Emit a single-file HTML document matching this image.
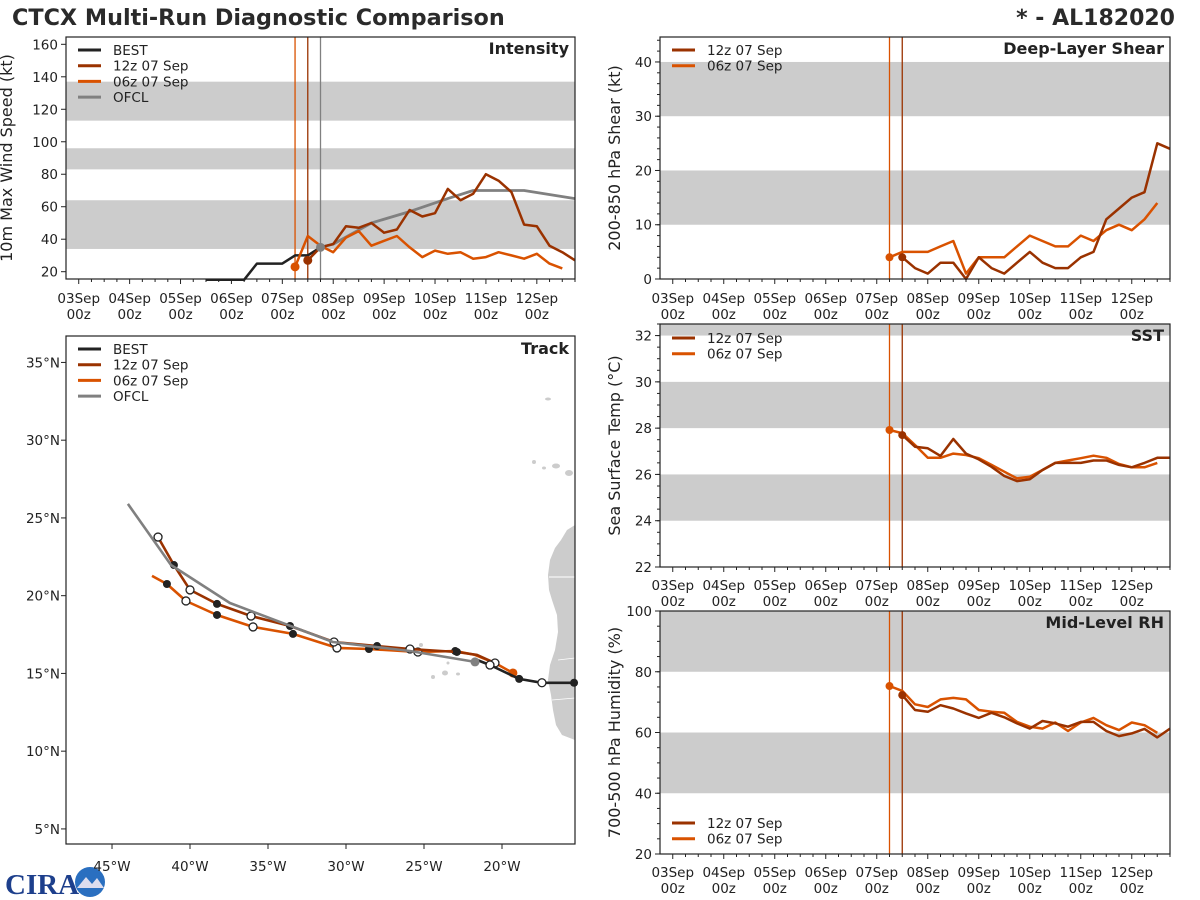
<!DOCTYPE html>
<html><head><meta charset="utf-8"><style>
body{margin:0;background:#fff;}
svg{display:block;font-family:"DejaVu Sans","Liberation Sans",sans-serif;}
</style></head><body>
<svg id="c" width="1200" height="900" viewBox="0 0 1200 900">
<text x="12" y="25" font-size="22.3" font-weight="bold" fill="#2a2a2a">CTCX Multi-Run Diagnostic Comparison</text>
<text x="1175" y="25" font-size="22" font-weight="bold" fill="#2a2a2a" text-anchor="end">* - AL182020</text>
<g>
<text x="5" y="894" font-size="29" font-weight="bold" fill="#1d3f8c" font-family="Liberation Serif, serif">CIRA</text>
<circle cx="90" cy="882" r="15" fill="#2a6fc0"/>
<path d="M77 888 L86 877 L92 884 L97 878 L104 888 Z" fill="#dde"/>
</g>
</svg>
<script>
// ---- data ----
const bestHours=[60,66,72,78,84,90,96,102,108,114];
const bestWind=[15,15,15,15,25,25,25,30,30,35];
const r12Hours=[108,114,120,126,132,138,144,150,156,162,168,174,180,186,192,198,204,210,216,222,228,234];
const r06Hours=[102,108,114,120,126,132,138,144,150,156,162,168,174,180,186,192,198,204,210,216,222,228];
const r12Wind=[27,35,37,48,47,50,44,46,58,54,56,71,64,68,80,76,69,49,48,36,32,27];
const r06Wind=[23,42,36,32,41,45,36,39,42,35,29,33,31,32,28,29,32,30,28,31,25,22];
const ofclHours=[114,120,138,156,174,186,204,210,234];
const ofclWind=[35,37,50,57,65,70,70,70,65];
const r12Shear=[4,2,1,3,3,0,4,2,1,3,5,3,2,2,4,5,11,13,15,16,25,24];
const r06Shear=[4,5,5,5,6,7,1,4,4,4,6,8,7,6,6,8,7,9,10,9,11,14];
const r12Sst=[27.7,27.2,27.13,26.8,27.53,26.9,26.65,26.33,25.93,25.71,25.79,26.19,26.5,26.5,26.5,26.6,26.6,26.41,26.31,26.5,26.72,26.72];
const r06Sst=[27.92,27.78,27.27,26.72,26.72,26.9,26.84,26.7,26.41,26.12,25.83,25.9,26.19,26.5,26.6,26.7,26.81,26.72,26.45,26.31,26.31,26.5];
const r12Rh=[72.3,67.4,66.8,69,67.9,66.3,64.8,66.5,65,63,61.3,63.8,63,61.9,63.5,63.5,60.5,58.8,59.7,61.2,58.4,61.3];
const r06Rh=[75.3,73.7,69.3,68.4,70.9,71.4,70.9,67.4,66.8,66.5,63.5,61.9,61.3,63.3,60.5,63.3,64.8,62.4,60.8,63.3,62.4,59.9];
const dayLabels=['03Sep','04Sep','05Sep','06Sep','07Sep','08Sep','09Sep','10Sep','11Sep','12Sep'];
const bestLon=[-15.38,-17.44,-18.9,-20.77,-21.7];
const bestLat=[14.4,14.4,14.65,15.54,15.9];
const bestMark=['b','w','b','w','-'];
const ofclLon=[-21.73,-25.9,-30.84,-37.44,-41.22,-43.98];
const ofclLat=[15.74,16.44,17.02,19.53,21.97,25.9];
const t12Lon=[-20.45,-21.6,-22.89,-25.9,-28.01,-30.77,-33.59,-36.09,-38.27,-40.0,-41.03,-42.05];
const t12Lat=[15.67,16.19,16.38,16.57,16.76,17.02,18.05,18.69,19.47,20.37,21.97,23.77];
const t12Mark=['w','-','b','w','b','w','b','w','b','w','b','w'];
const t06Lon=[-19.3,-20.45,-21.73,-23.0,-25.39,-28.53,-30.58,-33.4,-35.96,-38.27,-40.26,-41.48,-42.44];
const t06Lat=[15.03,15.67,16.19,16.44,16.38,16.57,16.64,17.54,17.99,18.76,19.66,20.75,21.27];
const t06Mark=['o','-','-','b','w','b','w','b','w','b','w','b','-'];
const lonTicks=[-45,-40,-35,-30,-25,-20];
const latTicks=[5,10,15,20,25,30,35];

const C_BEST='#222222',C12='#9a3200',C06='#d95200',COF='#808080',BAND='#cccccc';
const NS='http://www.w3.org/2000/svg';
const svg=document.getElementById('c');
function mk(t,a,p){const e=document.createElementNS(NS,t);for(const k in a)e.setAttribute(k,a[k]);(p||svg).appendChild(e);return e;}

function makeAxes(x0,x1,y0,y1,xmin,xmax,ymin,ymax){
  return {x0,x1,y0,y1,sx:v=>x0+(v-xmin)/(xmax-xmin)*(x1-x0),sy:v=>y1-(v-ymin)/(ymax-ymin)*(y1-y0)};
}
function line(ax,xs,ys,color,w,name){
  const g=mk('g',{});
  
  
  const pts=xs.map((x,i)=>ax.sx(x).toFixed(1)+','+ax.sy(ys[i]).toFixed(1)).join(' ');
  const p=mk('polyline',{points:pts,fill:'none',stroke:color,'stroke-width':w,'stroke-linejoin':'round'},g);
  
  
  return g;
}
function dot(ax,x,y,color,r,name){
  const c=mk('circle',{cx:ax.sx(x),cy:ax.sy(y),r:r,fill:color});
  
  
}
function timePanel(ax,name,bands,vlines){
  const g=mk('g',{});
  
  
  bands.forEach(b=>{
    const top=Math.min(b[1],ax.ymaxv);
    const r=mk('rect',{x:ax.x0,y:ax.sy(top),width:ax.x1-ax.x0,height:ax.sy(b[0])-ax.sy(top),fill:BAND},g);
    
    
  });
  vlines.forEach(v=>{
    const l=mk('line',{x1:ax.sx(v[0]),x2:ax.sx(v[0]),y1:ax.y0,y2:ax.y1,stroke:v[1],'stroke-width':1.3},g);
    
    
  });
  return g;
}
function frameAndTicks(ax,name,yt,minor,ylab,title,labX,xLabY){
  const f=mk('rect',{x:ax.x0,y:ax.y0,width:ax.x1-ax.x0,height:ax.y1-ax.y0,fill:'none',stroke:'#222','stroke-width':1.2});
  
  
  yt.forEach(v=>{
    const y=ax.sy(v);
    mk('line',{x1:ax.x0-5,x2:ax.x0,y1:y,y2:y,stroke:'#222'});
    const t=mk('text',{x:ax.x0-8,y:y+5,'font-size':13.5,'text-anchor':'end',fill:'#222'});
    t.textContent=v;
    
    
  });
  minor.forEach(v=>{const y=ax.sy(v);mk('line',{x1:ax.x0-3,x2:ax.x0,y1:y,y2:y,stroke:'#222'});});
  for(let h=0;h<=234;h+=6){
    const x=ax.sx(h);
    mk('line',{x1:x,x2:x,y1:ax.y1,y2:ax.y1+(h%24===0?5:3),stroke:'#222'});
  }
  dayLabels.forEach((d,i)=>{
    const x=ax.sx(i*24);
    const t=mk('text',{x:x,y:xLabY,'font-size':13.5,'text-anchor':'middle',fill:'#222'});
    t.textContent=d;
    
    
    const t2=mk('text',{x:x,y:xLabY+16,'font-size':13.5,'text-anchor':'middle',fill:'#222'});
    t2.textContent='00z';
    
    
  });
  const cy=(ax.y0+ax.y1)/2;
  const yl=mk('text',{x:labX,y:cy,'font-size':16,'text-anchor':'middle',fill:'#222',transform:`rotate(-90 ${labX} ${cy})`});
  yl.textContent=ylab;
  
  
  const tt=mk('text',{x:ax.x1-6,y:ax.y0+17,'font-size':16,'font-weight':'bold','text-anchor':'end',fill:'#222'});
  tt.textContent=title;
  
  
}
function legend(x,y,items){
  const g=mk('g',{});
  
  
  items.forEach((it,i)=>{
    const yy=y+i*15.7;
    mk('line',{x1:x,x2:x+23,y1:yy,y2:yy,stroke:it[1],'stroke-width':3},g);
    const t=mk('text',{x:x+35,y:yy+5,'font-size':13.5,fill:'#222'},g);
    t.textContent=it[0];
    
    
  });
}
function range(a,b,s){const r=[];for(let v=a;v<=b+1e-9;v+=s)r.push(+v.toFixed(2));return r;}
const VL=[[102,C06],[108,C12]];

// Intensity
const aI=makeAxes(66,575,37,279,-6,234,15.5,164.5);aI.ymaxv=164.5;
timePanel(aI,'intensity',[[34,64],[83,96],[113,137]],[[102,C06],[108,C12],[114,COF]]);
line(aI,bestHours,bestWind,C_BEST,2.5,'best-intensity');
line(aI,ofclHours,ofclWind,COF,2.8,'ofcl-intensity');
line(aI,r06Hours,r06Wind,C06,2.5,'run-06z-intensity');
line(aI,r12Hours,r12Wind,C12,2.5,'run-12z-intensity');
dot(aI,r06Hours[0],r06Wind[0],C06,4.5,'run-06z-start');
dot(aI,r12Hours[0],r12Wind[0],C12,4.5,'run-12z-start');
dot(aI,ofclHours[0],ofclWind[0],COF,4.5,'ofcl-start');
frameAndTicks(aI,'intensity',range(20,160,20),[],'10m Max Wind Speed (kt)','Intensity',12,303);
legend(78,50,[['BEST',C_BEST],['12z 07 Sep',C12],['06z 07 Sep',C06],['OFCL',COF]]);

// Shear
const aS=makeAxes(660,1170,37,279,-6,234,0,44.6);aS.ymaxv=44.6;
timePanel(aS,'shear',[[10,20],[30,40]],VL);
line(aS,r06Hours,r06Shear,C06,2.5,'run-06z-shear');
line(aS,r12Hours,r12Shear,C12,2.5,'run-12z-shear');
dot(aS,r06Hours[0],r06Shear[0],C06,4,'run-06z-shear-start');
dot(aS,r12Hours[0],r12Shear[0],C12,4,'run-12z-shear-start');
frameAndTicks(aS,'shear',range(0,40,10),range(0,44,2),'200-850 hPa Shear (kt)','Deep-Layer Shear',620,303);
legend(672,50,[['12z 07 Sep',C12],['06z 07 Sep',C06]]);

// SST
const aT=makeAxes(660,1170,324,567,-6,234,22,32.5);aT.ymaxv=32.5;
timePanel(aT,'sst',[[24,26],[28,30],[32,34]],VL);
line(aT,r06Hours,r06Sst,C06,2.5,'run-06z-sst');
line(aT,r12Hours,r12Sst,C12,2.5,'run-12z-sst');
dot(aT,r06Hours[0],r06Sst[0],C06,4,'run-06z-sst-start');
dot(aT,r12Hours[0],r12Sst[0],C12,4,'run-12z-sst-start');
frameAndTicks(aT,'sst',range(22,32,2),range(22,32.5,0.5),'Sea Surface Temp (°C)','SST',620,590);
legend(672,338,[['12z 07 Sep',C12],['06z 07 Sep',C06]]);

// RH
const aR=makeAxes(660,1170,611,854,-6,234,20,100);aR.ymaxv=100;
timePanel(aR,'rh',[[40,60],[80,100]],VL);
line(aR,r06Hours,r06Rh,C06,2.5,'run-06z-rh');
line(aR,r12Hours,r12Rh,C12,2.5,'run-12z-rh');
dot(aR,r06Hours[0],r06Rh[0],C06,4,'run-06z-rh-start');
dot(aR,r12Hours[0],r12Rh[0],C12,4,'run-12z-rh-start');
frameAndTicks(aR,'rh',range(20,100,20),range(20,100,5),'700-500 hPa Humidity (%)','Mid-Level RH',620,877);
legend(672,823,[['12z 07 Sep',C12],['06z 07 Sep',C06]]);

// Track
const aK=makeAxes(66,575,336,844,-47.95,-15.32,4.03,36.7);
const land=mk('g',{});


const lp=mk('path',{d:'M575 525 L567 530 L561 540 L555 548 L550 560 L548 575 L549 590 L552 600 L557 615 L558 632 L555 650 L550 665 L548 680 L551 695 L553 710 L556 725 L562 735 L575 740 Z',fill:BAND},land);


mk('line',{x1:549,x2:575,y1:577,y2:577,stroke:'#fff','stroke-width':1},land);
mk('line',{x1:558,x2:575,y1:660,y2:658,stroke:'#fff','stroke-width':0.8},land);
mk('line',{x1:552,x2:575,y1:700,y2:698,stroke:'#fff','stroke-width':0.8},land);
[[548,399,3,1.5],[534,462,2,2],[544,468,2,1.5],[556,466,4,2.5],[569,473,4,3],[421,645,2,2],[433,677,2,2],[445,673,3,2.5],[458,674,2,1.5],[448,663,1.5,1.5]].forEach(a=>{
  const e=mk('ellipse',{cx:a[0],cy:a[1],rx:a[2],ry:a[3],fill:BAND},land);
  
  
});
function track(lon,lat,marks,color,name){
  line(aK,lon,lat,color,2.6,name);
  if(!marks)return;
  marks.forEach((m,i)=>{
    if(m==='-')return;
    const c=mk('circle',{cx:aK.sx(lon[i]),cy:aK.sy(lat[i]),r:m==='o'?4.5:4,fill:m==='b'?'#222':(m==='w'?'#fff':color),stroke:m==='w'?'#222':'none','stroke-width':1.3});
    
    
  });
}
track(t06Lon,t06Lat,t06Mark,C06,'run-06z-track');
track(t12Lon,t12Lat,t12Mark,C12,'run-12z-track');
track(bestLon,bestLat,bestMark,C_BEST,'best-track');
track(ofclLon,ofclLat,null,COF,'ofcl-track');
dot(aK,ofclLon[0],ofclLat[0],COF,4.5,'ofcl-track-start');
const fk=mk('rect',{x:66,y:336,width:509,height:508,fill:'none',stroke:'#222','stroke-width':1.2});


lonTicks.forEach(v=>{
  const x=aK.sx(v);
  mk('line',{x1:x,x2:x,y1:844,y2:849,stroke:'#222'});
  const t=mk('text',{x:x,y:871,'font-size':13.5,'text-anchor':'middle',fill:'#222'});
  t.textContent=Math.abs(v)+'°W';
  
  
});
latTicks.forEach(v=>{
  const y=aK.sy(v);
  mk('line',{x1:61,x2:66,y1:y,y2:y,stroke:'#222'});
  const t=mk('text',{x:60,y:y+5,'font-size':13.5,'text-anchor':'end',fill:'#222'});
  t.textContent=v+'°N';
  
  
});
const tk=mk('text',{x:569,y:354,'font-size':16,'font-weight':'bold','text-anchor':'end',fill:'#222'});
tk.textContent='Track';


legend(78,349,[['BEST',C_BEST],['12z 07 Sep',C12],['06z 07 Sep',C06],['OFCL',COF]]);
</script>
</body></html>
